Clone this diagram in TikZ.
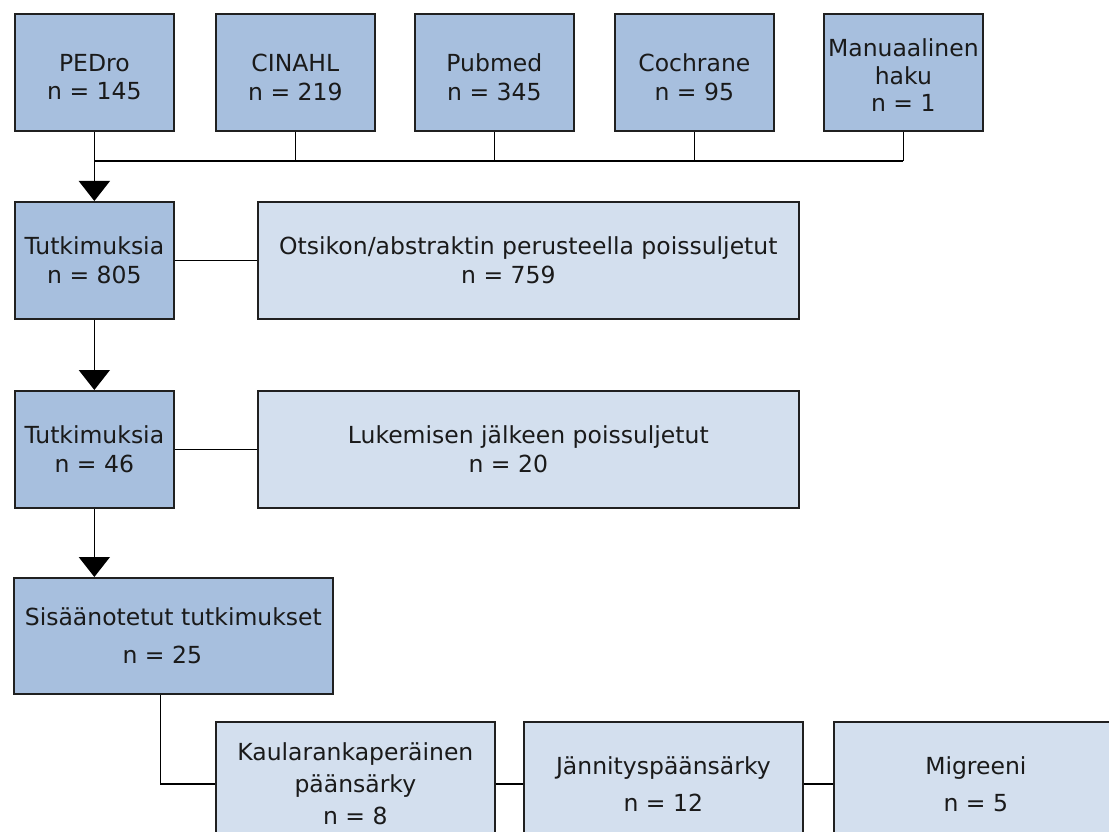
\documentclass[tikz,border=0pt]{standalone}
\usepackage{fontspec}
\setmainfont{DejaVu Sans}
\usetikzlibrary{arrows.meta}
\definecolor{darkfill}{HTML}{A7BFDE}
\definecolor{lightfill}{HTML}{D3DFEE}
\definecolor{edge}{HTML}{202020}
\definecolor{txt}{HTML}{1A1A1A}
\begin{document}
\begin{tikzpicture}[x=1pt,y=-1pt,
  box/.style={draw=edge, line width=1.7pt, anchor=north west, align=center, inner sep=1pt,
    text=txt, font=\fontsize{23.5}{29}\selectfont},
  darkbox/.style={box, fill=darkfill},
  lightbox/.style={box, fill=lightfill},
  toplbl/.style={align=center, text=txt, inner sep=0pt, font=\fontsize{23.5}{28.5}\selectfont},
  topbox/.style={darkbox, minimum width=159pt, minimum height=117pt},
  conn/.style={draw=black, line width=1.6pt},
  arr/.style={conn, -{Triangle[width=31pt,length=20pt]}}
]
\useasboundingbox (0,0) rectangle (1109,832);
\clip (0,0) rectangle (1109,832);
\fill[white] (0,0) rectangle (1109,832);

% top row
\node[topbox, label={[toplbl, yshift=-5pt]center:{PEDro\\n = 145}}] (pedro) at (14,13) {};
\node[topbox, label={[toplbl, yshift=-5pt]center:{CINAHL\\n = 219}}] (cinahl) at (215,13) {};
\node[topbox, label={[toplbl, yshift=-5pt]center:{Pubmed\\n = 345}}] (pubmed) at (414,13) {};
\node[topbox, label={[toplbl, yshift=-5pt]center:{Cochrane\\n = 95}}] (cochrane) at (614,13) {};
\node[topbox, label={[toplbl, yshift=-3pt, font=\fontsize{23.5}{27.5}\selectfont]center:{Manuaalinen\\haku\\n = 1}}] (manu) at (823,13) {};

% main column
\node[darkbox, minimum width=159pt, minimum height=117pt] (tut1) at (14,201) {Tutkimuksia\\n = 805};
\node[lightbox, minimum width=541pt, minimum height=117pt] (excl1) at (257,201) {Otsikon/abstraktin perusteella poissuljetut\\n = 759\hspace*{40pt}};
\node[darkbox, minimum width=159pt, minimum height=117pt] (tut2) at (14,390) {Tutkimuksia\\n = 46};
\node[lightbox, minimum width=541pt, minimum height=117pt] (excl2) at (257,390) {Lukemisen jälkeen poissuljetut\\n = 20\hspace*{40pt}};
\node[darkbox, minimum width=319pt, minimum height=116pt, font=\fontsize{23.5}{38}\selectfont] (sis) at (13,577) {Sisäänotetut tutkimukset\\n = 25\hspace*{22pt}};

% bottom row
\node[lightbox, minimum width=279pt, minimum height=124pt, font=\fontsize{23.5}{32}\selectfont] (kaula) at (215,721) {Kaularankaperäinen\\päänsärky\\n = 8};
\node[lightbox, minimum width=279pt, minimum height=124pt, font=\fontsize{23.5}{37}\selectfont] (jann) at (523,721) {Jännityspäänsärky\\n = 12};
\node[lightbox, minimum width=284pt, minimum height=124pt, font=\fontsize{23.5}{37}\selectfont] (migr) at (833,721) {Migreeni\\n = 5};

% bus
\coordinate (bus) at (0,161);
\draw[conn] (pedro.south |- bus) -- (manu.south |- bus);
\foreach \n in {cinahl,pubmed,cochrane,manu}
  \draw[conn] (\n.south) -- (\n.south |- bus);
\draw[arr] (pedro.south) -- (tut1.north);
\draw[arr] (tut1.south) -- (tut2.north);
\draw[arr] (tut2.south) -- (sis.north -| tut2.south);
\draw[conn] (tut1.east) -- (excl1.west);
\draw[conn] (tut2.east) -- (excl2.west);
\draw[conn] ([xshift=-13pt]sis.south) |- (kaula.west);
\draw[conn] (kaula.east) -- (jann.west);
\draw[conn] (jann.east) -- (migr.west);
\end{tikzpicture}
\end{document}
